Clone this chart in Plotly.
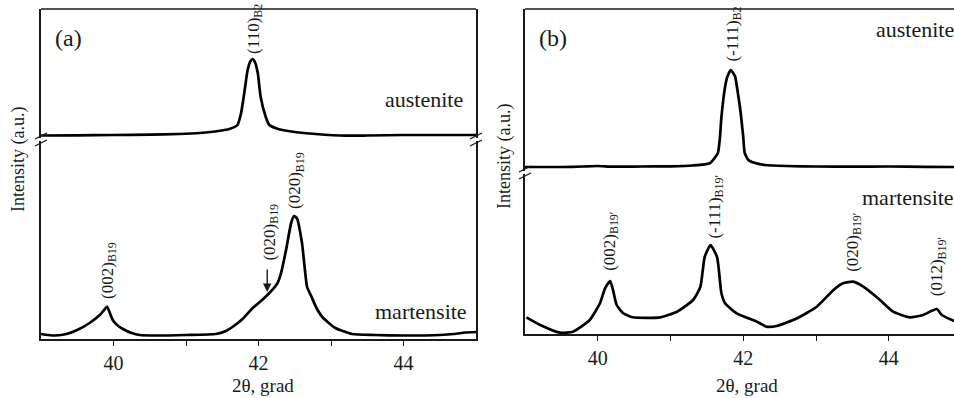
import plotly.graph_objects as go

W, H = 954, 398

# ---------------- data ----------------
# panel (a) martensite (lower curve)
tt_a_mart = [39.00, 39.10, 39.20, 39.35, 39.50, 39.67, 39.81, 39.87, 39.91, 39.95, 39.99, 40.05,
             40.13, 40.25, 40.36, 40.60, 41.00, 41.41, 41.55, 41.64, 41.78, 41.92, 42.05, 42.15,
             42.26, 42.31, 42.38, 42.45, 42.49, 42.53, 42.60, 42.67, 42.72, 42.80, 42.88, 43.06,
             43.29, 43.60, 44.00, 44.50, 44.70, 44.85, 45.00]
I_a_mart = [5, 4, 3.5, 5, 9, 16, 24, 29, 32.5, 26, 19, 14,
            10, 6, 4, 3.5, 4, 5, 8, 12, 20, 31, 39, 46,
            55.7, 65.7, 89, 116, 123, 120.7, 96, 52, 44, 31, 22, 11,
            5, 4, 3.5, 4, 5, 6.5, 7]

# panel (a) austenite (upper curve)
tt_a_aus = [39.0, 39.5, 40.0, 40.5, 40.9, 41.19, 41.40, 41.60, 41.71, 41.76, 41.80, 41.85,
            41.89, 41.92, 41.95, 41.99, 42.03, 42.10, 42.15, 42.25, 42.33, 42.50, 42.79, 43.2,
            43.5, 44.0, 44.5, 45.0]
I_a_aus = [-0.5, -0.3, 0, 0.3, 1, 2, 3.5, 6, 10, 22, 40, 65,
           74, 76, 73, 62, 38, 18, 10, 6.5, 5, 3, 1, -0.7,
           -0.5, 0, 0, 0]

# panel (b) martensite (lower curve)
tt_b_mart = [39.02, 39.21, 39.48, 39.66, 39.89, 40.03, 40.10, 40.17, 40.21, 40.26, 40.35, 40.48,
             40.86, 41.09, 41.31, 41.41, 41.47, 41.55, 41.64, 41.70, 41.75, 41.91, 42.19, 42.32,
             42.46, 42.74, 43.01, 43.24, 43.37, 43.51, 43.65, 43.88, 44.06, 44.29, 44.47, 44.66,
             44.73, 44.90]
I_b_mart = [16.7, 9, 1.3, 2.3, 14, 30.7, 45.7, 53, 44, 29, 20.7, 16.7,
            16.7, 22.3, 34, 47, 77, 89, 77, 40.7, 30.7, 20.7, 12.3, 7.3,
            8, 15.7, 27.3, 44, 50.7, 52.3, 47.3, 34, 22.3, 16.7, 19, 25,
            19, 13]

# panel (b) austenite (upper curve)
tt_b_aus = [39.0, 39.5, 39.8, 40.0, 40.2, 40.6, 41.0, 41.3, 41.54, 41.65, 41.68, 41.70,
            41.75, 41.78, 41.83, 41.87, 41.89, 41.93, 41.96, 42.00, 42.02, 42.07, 42.12, 42.3,
            42.6, 43.0, 43.5, 44.0, 44.5, 44.9]
I_b_aus = [0, 0, 0.5, 1, 0.3, 0.5, 0.7, 1.5, 3.7, 13.7, 30, 50,
           80, 90, 97, 93, 90, 72, 57, 30, 14, 7, 5, 2,
           1, 0.5, 0.3, 0.5, 0.2, 0]

x_ticks = [40, 42, 44]
x_minor = [41, 43]

# peak labels: (text, x, y at bottom of label, y-axis)
lab_text = ["(110)<sub>B2</sub>", "(002)<sub>B19</sub>", "(020)<sub>B19</sub>", "(020)<sub>B19</sub>",
            "(-111)<sub>B2</sub>", "(002)<sub>B19′</sub>", "(-111)<sub>B19′</sub>",
            "(020)<sub>B19′</sub>", "(012)<sub>B19′</sub>"]
lab_x = [41.95, 39.93, 42.16, 42.51, 41.86, 40.18, 41.62, 43.52, 44.68]
lab_y = [79, 38, 76, 128, 103, 61, 93, 60, 36]
lab_axis = [("x", "y2"), ("x", "y"), ("x", "y"), ("x", "y"),
            ("x2", "y4"), ("x2", "y3"), ("x2", "y3"), ("x2", "y3"), ("x2", "y3")]

# arrow to the shoulder in (a)
arrow_x = 42.12
arrow_tip = 47
arrow_tail = 71

FONT = "Liberation Serif, Times New Roman, serif"
INK = "#1a1a1a"


def px(x):
    return x / W


def py(y):
    return (H - y) / H


fig = go.Figure()
line = dict(color="black", width=2.7, shape="spline", smoothing=0.5)
fig.add_trace(go.Scatter(x=tt_a_mart, y=I_a_mart, xaxis="x", yaxis="y", mode="lines", line=line))
fig.add_trace(go.Scatter(x=tt_a_aus, y=I_a_aus, xaxis="x", yaxis="y2", mode="lines", line=line))
fig.add_trace(go.Scatter(x=tt_b_mart, y=I_b_mart, xaxis="x2", yaxis="y3", mode="lines", line=line))
fig.add_trace(go.Scatter(x=tt_b_aus, y=I_b_aus, xaxis="x2", yaxis="y4", mode="lines", line=line))

xcommon = dict(showline=True, linecolor=INK, linewidth=1.5, ticks="outside", ticklen=5,
               tickwidth=1.3, tickcolor=INK, tickvals=x_ticks,
               minor=dict(ticks="outside", ticklen=5, tickwidth=1.3, tickcolor=INK, tickvals=x_minor),
               showgrid=False, zeroline=False,
               tickfont=dict(family=FONT, size=20, color=INK))
ycommon = dict(showline=True, linecolor=INK, linewidth=1.5, ticks="", showticklabels=False,
               showgrid=False, zeroline=False)

fig.update_layout(
    width=W, height=H, margin=dict(l=0, r=0, t=0, b=0),
    paper_bgcolor="white", plot_bgcolor="white", showlegend=False,
    xaxis=dict(domain=[px(41), px(476)], range=[39, 45], anchor="y", **xcommon),
    yaxis=dict(domain=[py(339), py(141)], range=[0, 198], anchor="x", mirror=True, **ycommon),
    yaxis2=dict(domain=[py(138), py(9)], range=[-3, 126], anchor="x", mirror=True, **ycommon),
    xaxis2=dict(domain=[px(525), 1.0], range=[39, 39 + (954 - 525) / 72.75], anchor="y3", **xcommon),
    yaxis3=dict(domain=[py(334), py(174)], range=[0, 160], anchor="x2", **ycommon),
    yaxis4=dict(domain=[py(171), py(9)], range=[-4, 158], anchor="x2", **ycommon),
)

shapes = []
# top borders
shapes.append(dict(type="line", xref="paper", yref="paper", x0=px(41), x1=px(476), y0=py(9), y1=py(9),
                   line=dict(color=INK, width=1.5)))
shapes.append(dict(type="line", xref="paper", yref="paper", x0=px(525), x1=1.0, y0=py(9), y1=py(9),
                   line=dict(color=INK, width=1.5)))


def break_marks(xp, yc):
    out = []
    for ys in (yc - 3.5, yc + 3.5):
        out.append(dict(type="line", xref="paper", yref="paper",
                        x0=px(xp - 6), y0=py(ys + 3), x1=px(xp + 6), y1=py(ys - 3),
                        line=dict(color=INK, width=1.3)))
    return out


shapes += break_marks(41, 139.5)
shapes += break_marks(476, 139.5)
shapes += break_marks(525, 172.5)
fig.update_layout(shapes=shapes)

ann = []
for t, x, y, (xa, ya) in zip(lab_text, lab_x, lab_y, lab_axis):
    ann.append(dict(text=t, x=x, y=y, xref=xa, yref=ya, showarrow=False, textangle=-90,
                    xanchor="center", yanchor="bottom", font=dict(family=FONT, size=17, color=INK)))

ann.append(dict(text="", x=arrow_x, y=arrow_tip, xref="x", yref="y", ax=arrow_x, ay=arrow_tail,
                axref="x", ayref="y", showarrow=True, arrowhead=2, arrowsize=1.2, arrowwidth=1.4,
                arrowcolor=INK))


def pann(text, x, y, size, xanchor="center", angle=0):
    return dict(text=text, x=px(x), y=py(y), xref="paper", yref="paper", showarrow=False,
                xanchor=xanchor, yanchor="middle", textangle=angle,
                font=dict(family=FONT, size=size, color=INK))


ann += [
    pann("(a)", 68, 38, 24),
    pann("(b)", 553, 38, 24),
    pann("austenite", 465, 100, 22, "right"),
    pann("martensite", 469, 311, 22, "right"),
    pann("austenite", 956, 30, 22, "right"),
    pann("martensite", 956, 197, 22, "right"),
    pann("2θ, grad", 263, 385, 19),
    pann("2θ, grad", 747, 385, 19),
    pann("Intensity (a.u.)", 18, 160, 18, angle=-90),
    pann("Intensity (a.u.)", 504, 157, 18, angle=-90),
]
fig.update_layout(annotations=ann)

fig.write_html("out.html")
